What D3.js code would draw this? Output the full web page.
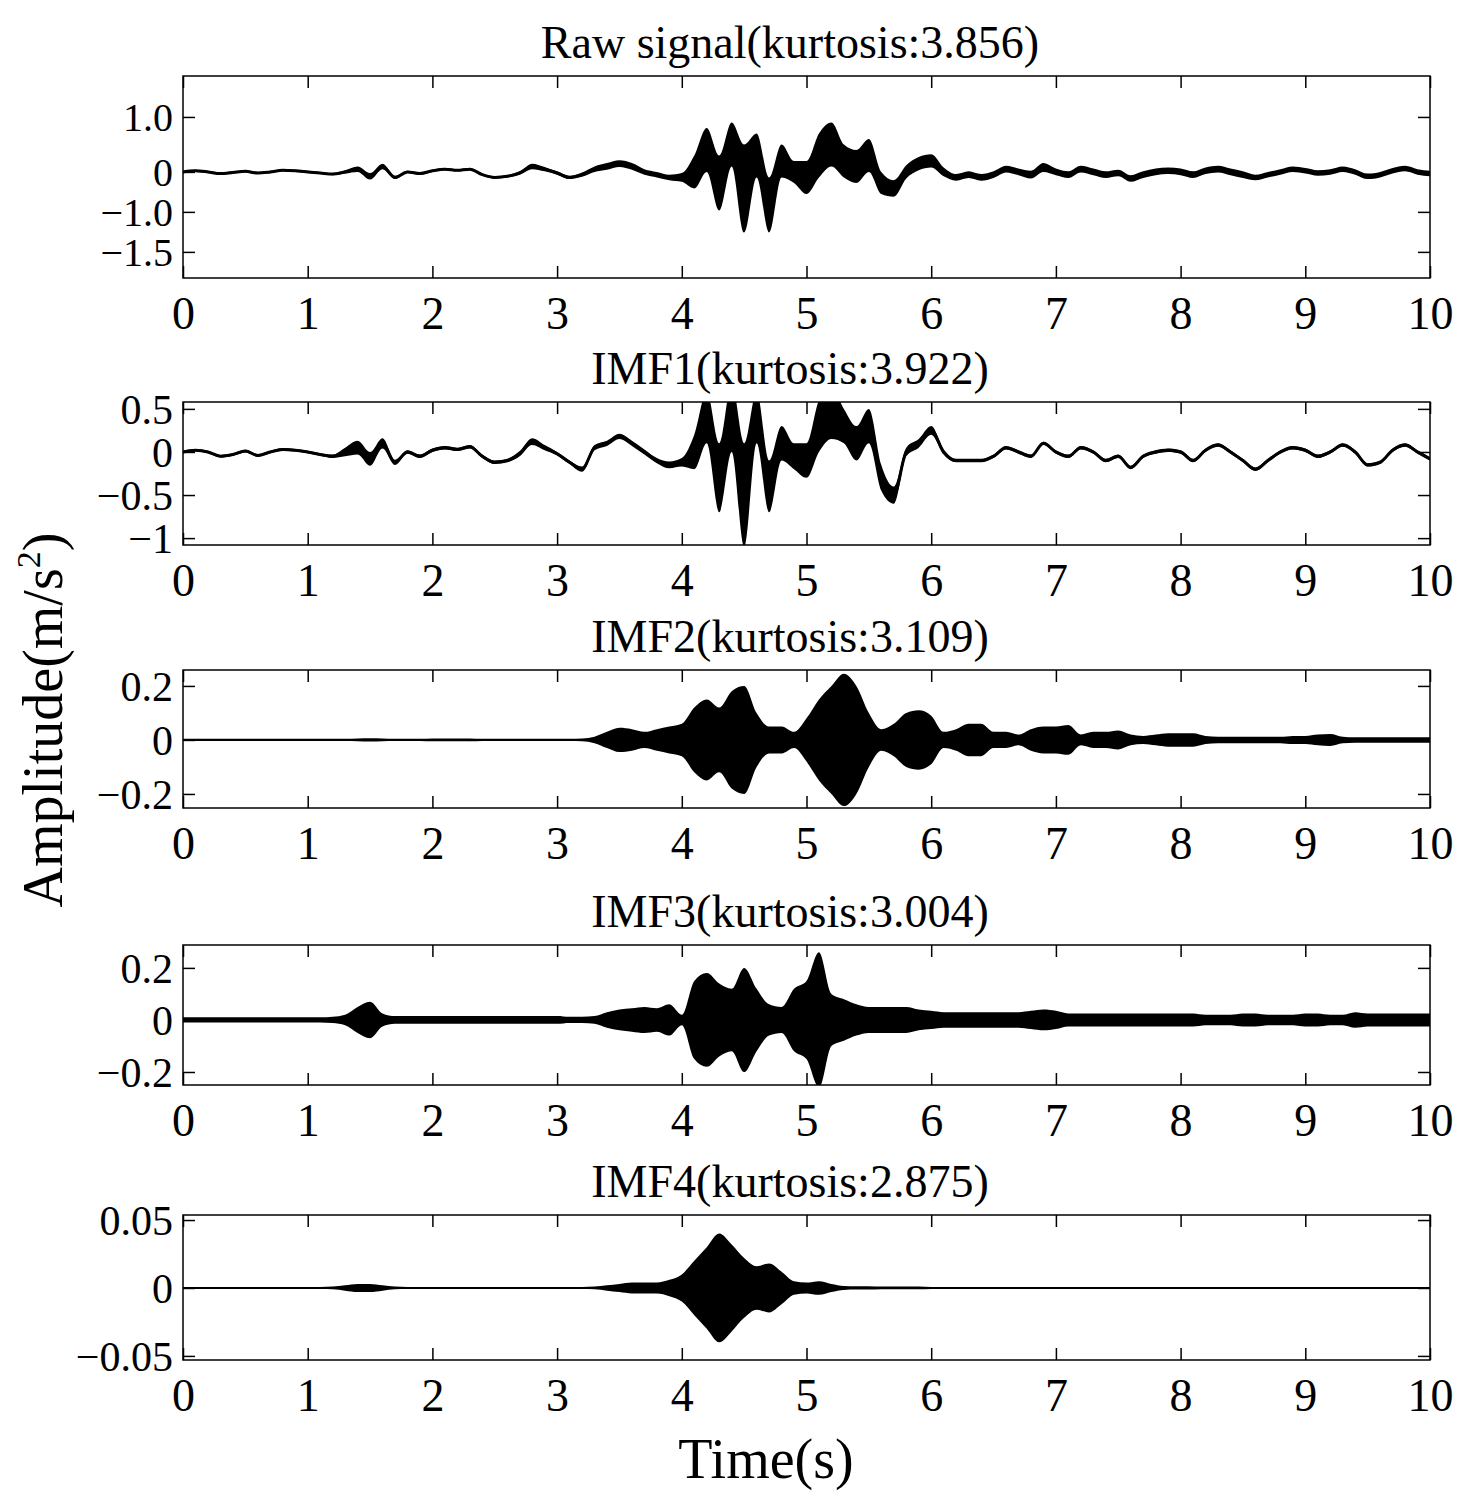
<!DOCTYPE html>
<html><head><meta charset="utf-8">
<script src="https://cdnjs.cloudflare.com/ajax/libs/d3/7.8.5/d3.min.js"></script>
<style>body{margin:0;background:#fff}</style></head>
<body><svg id="c" width="1470" height="1504"></svg>
<script>
// ---- data (0.1 s resolution) ----
const times = d3.range(0, 101).map(i => i / 10);
const xTicks = [0,1,2,3,4,5,6,7,8,9,10];
const titles = ["Raw signal(kurtosis:3.856)","IMF1(kurtosis:3.922)","IMF2(kurtosis:3.109)","IMF3(kurtosis:3.004)","IMF4(kurtosis:2.875)"];
const rawMid = [0,0.02,0,-0.03,-0.01,0.01,-0.02,0,0.03,0.02,
 0,-0.02,-0.04,0,0.05,-0.08,0.1,-0.1,0,-0.03,
 0.02,0.05,0.03,0.05,-0.05,-0.1,-0.08,-0.02,0.1,0.05,
 -0.02,-0.1,-0.05,0.05,0.1,0.15,0.1,0,-0.05,-0.1,
 -0.1,0.0,0.4,-0.2,0.5,-0.3,0.3,-0.6,0.2,0,
 -0.1,0.3,0.5,0.2,0.1,0.3,-0.2,-0.3,0,0.15,
 0.2,0,-0.1,-0.05,-0.1,-0.05,0.05,0,-0.05,0.08,
 0,-0.05,0.05,0,-0.05,-0.02,-0.12,-0.05,0,0.02,
 0,-0.05,0.02,0.05,0,-0.05,-0.1,-0.05,0,0.05,
 0.02,-0.02,0,0.05,0,-0.08,-0.05,0.02,0.06,0,-0.03];
const rawSpread = [0.02,0.02,0.02,0.02,0.02,0.02,0.02,0.02,0.02,0.02,
 0.02,0.02,0.02,0.03,0.05,0.06,0.05,0.03,0.02,0.02,
 0.02,0.02,0.02,0.02,0.02,0.02,0.02,0.03,0.05,0.04,
 0.03,0.03,0.04,0.05,0.06,0.06,0.06,0.05,0.05,0.05,
 0.08,0.3,0.4,0.5,0.4,0.8,0.4,0.5,0.3,0.2,
 0.3,0.4,0.4,0.3,0.3,0.3,0.2,0.15,0.12,0.12,
 0.12,0.08,0.06,0.06,0.06,0.06,0.06,0.06,0.07,0.08,
 0.06,0.06,0.06,0.06,0.06,0.06,0.06,0.06,0.06,0.06,
 0.06,0.06,0.06,0.06,0.06,0.06,0.05,0.05,0.05,0.05,
 0.05,0.05,0.05,0.05,0.05,0.05,0.05,0.05,0.05,0.05,0.05];
const imf1Mid = [0,0.02,0,-0.05,-0.03,0.01,-0.04,0,0.03,0.02,
 0,-0.03,-0.05,0,0.05,-0.08,0.1,-0.12,0,-0.05,
 0.02,0.05,0.03,0.06,-0.05,-0.12,-0.1,-0.02,0.12,0.05,
 -0.02,-0.12,-0.2,0.05,0.1,0.18,0.1,0,-0.1,-0.15,
 -0.12,0.0,0.4,-0.3,0.4,-0.5,0.4,-0.4,0.1,-0.05,
 -0.1,0.3,0.45,0.3,0.1,0.3,-0.3,-0.5,0,0.1,
 0.25,0,-0.1,-0.1,-0.1,-0.05,0.05,0,-0.05,0.1,
 0,-0.05,0.05,0,-0.1,-0.05,-0.18,-0.05,0,0.02,
 0,-0.1,0.02,0.08,0,-0.1,-0.2,-0.1,0,0.05,
 0.02,-0.05,0,0.08,0,-0.15,-0.12,0.02,0.08,0,-0.08];
const imf1Spread = [0.015,0.015,0.015,0.015,0.015,0.015,0.015,0.015,0.015,0.015,
 0.015,0.015,0.02,0.05,0.08,0.08,0.06,0.03,0.02,0.02,
 0.02,0.02,0.02,0.02,0.02,0.02,0.02,0.03,0.04,0.03,
 0.02,0.02,0.03,0.03,0.03,0.03,0.03,0.03,0.03,0.04,
 0.05,0.2,0.3,0.4,0.4,0.6,0.3,0.3,0.2,0.15,
 0.2,0.3,0.3,0.2,0.2,0.2,0.15,0.1,0.05,0.05,
 0.05,0.03,0.02,0.02,0.02,0.02,0.02,0.02,0.02,0.02,
 0.02,0.02,0.02,0.02,0.02,0.02,0.02,0.02,0.02,0.02,
 0.02,0.02,0.02,0.02,0.02,0.02,0.02,0.02,0.02,0.02,
 0.02,0.02,0.02,0.02,0.02,0.02,0.02,0.02,0.02,0.02,0.02];
const imf2Amp = [0.004,0.004,0.004,0.004,0.004,0.004,0.004,0.004,0.004,0.004,
 0.004,0.004,0.004,0.004,0.005,0.006,0.005,0.004,0.004,0.004,
 0.005,0.005,0.005,0.005,0.004,0.004,0.004,0.004,0.004,0.004,
 0.004,0.004,0.005,0.012,0.03,0.045,0.04,0.03,0.04,0.05,
 0.06,0.12,0.15,0.12,0.18,0.2,0.1,0.05,0.05,0.03,
 0.08,0.15,0.2,0.245,0.2,0.1,0.04,0.06,0.1,0.11,
 0.09,0.03,0.04,0.06,0.06,0.03,0.03,0.02,0.04,0.05,
 0.05,0.055,0.02,0.03,0.03,0.035,0.02,0.015,0.02,0.025,
 0.025,0.025,0.015,0.012,0.012,0.012,0.012,0.012,0.012,0.015,
 0.015,0.02,0.022,0.012,0.01,0.01,0.01,0.01,0.01,0.01,0.01];
const imf3Amp = [0.01,0.01,0.01,0.01,0.01,0.01,0.01,0.01,0.01,0.01,
 0.01,0.01,0.012,0.02,0.05,0.07,0.025,0.015,0.015,0.015,
 0.015,0.015,0.015,0.015,0.015,0.015,0.015,0.015,0.015,0.015,
 0.015,0.012,0.012,0.015,0.03,0.04,0.045,0.05,0.045,0.06,
 0.02,0.15,0.18,0.14,0.12,0.2,0.12,0.06,0.05,0.12,
 0.15,0.26,0.1,0.08,0.06,0.05,0.05,0.05,0.05,0.04,
 0.035,0.03,0.03,0.03,0.03,0.03,0.03,0.03,0.035,0.04,
 0.035,0.025,0.025,0.025,0.025,0.025,0.025,0.025,0.025,0.025,
 0.025,0.025,0.02,0.02,0.02,0.025,0.025,0.02,0.02,0.02,
 0.025,0.025,0.02,0.02,0.03,0.025,0.025,0.025,0.025,0.025,0.025];
const imf4Amp = [0.0008,0.0008,0.0008,0.0008,0.0008,0.0008,0.0008,0.0008,0.0008,0.0008,
 0.0008,0.0008,0.001,0.002,0.003,0.003,0.002,0.001,0.0008,0.0008,
 0.0008,0.0008,0.0008,0.0008,0.0008,0.0008,0.0008,0.0008,0.0008,0.0008,
 0.0008,0.0008,0.0008,0.001,0.002,0.003,0.004,0.004,0.004,0.006,
 0.01,0.02,0.03,0.04,0.032,0.022,0.016,0.018,0.012,0.005,
 0.004,0.005,0.003,0.0015,0.0012,0.0012,0.001,0.001,0.001,0.001,
 0.0008,0.0008,0.0008,0.0008,0.0008,0.0008,0.0008,0.0008,0.0008,0.0008,
 0.0008,0.0008,0.0008,0.0008,0.0008,0.0008,0.0008,0.0008,0.0008,0.0008,
 0.0008,0.0008,0.0008,0.0008,0.0008,0.0008,0.0008,0.0008,0.0008,0.0008,
 0.0008,0.0008,0.0008,0.0008,0.0008,0.0008,0.0008,0.0008,0.0008,0.0008,0.0008];
const zeros = times.map(() => 0);
const panels = [
 {top:76,bottom:278,dom:[-1.93,1.745],tv:[1.0,0,-0.727,-1.455],tl:["1.0","0","\u22121.0","\u22121.5"],mid:rawMid,amp:rawSpread,line:true},
 {top:402,bottom:545,dom:[-1.08,0.58],tv:[0.5,0,-0.5,-1],tl:["0.5","0","\u22120.5","\u22121"],mid:imf1Mid,amp:imf1Spread,line:true},
 {top:670,bottom:808,dom:[-0.252,0.259],tv:[0.2,0,-0.2],tl:["0.2","0","\u22120.2"],mid:zeros,amp:imf2Amp},
 {top:945,bottom:1085,dom:[-0.25,0.288],tv:[0.2,0,-0.2],tl:["0.2","0","\u22120.2"],mid:zeros,amp:imf3Amp},
 {top:1215,bottom:1360,dom:[-0.053,0.0537],tv:[0.05,0,-0.05],tl:["0.05","0","\u22120.05"],mid:zeros,amp:imf4Amp}
];
const svg = d3.select("#c");
const F = "'Liberation Serif','Times New Roman',serif";
const x = d3.scaleLinear().domain([0,10]).range([183,1430]);
panels.forEach((p,i) => {
  const y = d3.scaleLinear().domain(p.dom).range([p.bottom,p.top]);
  const g = svg.append("g");
  const clipId = "cl"+i;
  svg.append("clipPath").attr("id",clipId).append("rect")
    .attr("x",183).attr("y",p.top).attr("width",1247).attr("height",p.bottom-p.top);
  const pg = g.append("g").attr("clip-path",`url(#${clipId})`);
  pg.append("path").datum(times.map((t,k)=>k))
    .attr("d", d3.area().x(k=>x(times[k])).y0(k=>y(p.mid[k]-p.amp[k])).y1(k=>y(p.mid[k]+p.amp[k])).curve(d3.curveMonotoneX))
    .attr("fill","#000");
  pg.append("path").datum(times.map((t,k)=>k))
    .attr("d", d3.line().x(k=>x(times[k])).y(k=>y(p.mid[k])).curve(d3.curveMonotoneX))
    .attr("fill","none").attr("stroke","#000").attr("stroke-width",p.line?3:2);
  const ax = (gen, tr, fs) => {
    const a = g.append("g").attr("transform",tr).call(gen);
    a.select(".domain").remove();
    a.selectAll("line").attr("stroke","#000").attr("stroke-width",1.5);
    a.selectAll("text").attr("font-family",F).attr("font-size",fs).attr("fill","#000");
    return a;
  };
  ax(d3.axisBottom(x).tickValues(xTicks).tickSize(-12).tickPadding(18).tickFormat(d3.format("d")), `translate(0,${p.bottom})`, 46);
  ax(d3.axisTop(x).tickValues(xTicks).tickSize(-12).tickFormat(""), `translate(0,${p.top})`, 46);
  const yl = ax(d3.axisLeft(y).tickValues(p.tv).tickSize(-12).tickPadding(10).tickFormat((d,j)=>p.tl[j]), `translate(183,0)`, i===0?40:42);
  ax(d3.axisRight(y).tickValues(p.tv).tickSize(-12).tickFormat(""), `translate(1430,0)`, 42);
  yl.selectAll("text").attr("dy","0.35em");
  g.append("rect").attr("x",183).attr("y",p.top).attr("width",1247).attr("height",p.bottom-p.top)
    .attr("fill","none").attr("stroke","#000").attr("stroke-width",1.5);
  svg.append("text").attr("x",790).attr("y",p.top-18).attr("text-anchor","middle")
    .attr("font-family",F).attr("font-size",46).text(titles[i]);
});
svg.append("text").attr("x",766).attr("y",1478).attr("text-anchor","middle")
  .attr("font-family",F).attr("font-size",56).text("Time(s)");
const yt = svg.append("text").attr("transform","translate(62,720) rotate(-90)").attr("text-anchor","middle")
  .attr("font-family",F).attr("font-size",56);
yt.append("tspan").text("Amplitude(m/s");
yt.append("tspan").attr("font-size",34).attr("dy",-22).text("2");
yt.append("tspan").attr("dy",22).text(")");
</script></body></html>
